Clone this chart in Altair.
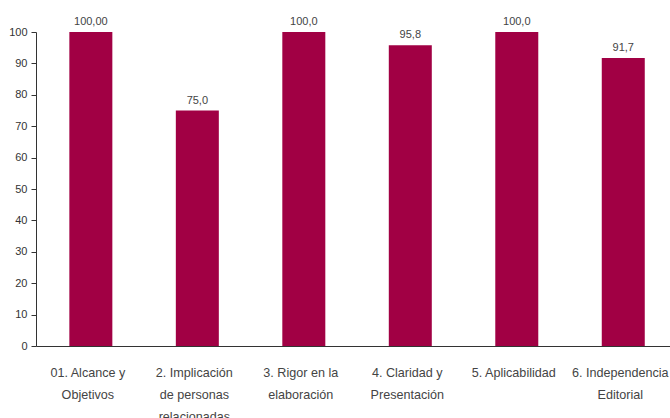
import altair as alt
import pandas as pd

categories = [
    "01. Alcance y|Objetivos",
    "2. Implicación|de personas|relacionadas",
    "3. Rigor en la|elaboración",
    "4. Claridad y|Presentación",
    "5. Aplicabilidad",
    "6. Independencia|Editorial",
]
values = [100.0, 75.0, 100.0, 95.8, 100.0, 91.7]
value_labels = ["100,00", "75,0", "100,0", "95,8", "100,0", "91,7"]

df = pd.DataFrame({"cat": categories, "val": values, "lab": value_labels})

FONT = "Liberation Sans"
BAR = "#A10044"

x = alt.X(
    "cat:N",
    sort=categories,
    title=None,
    scale=alt.Scale(paddingInner=0.59, paddingOuter=0.272, align=0.57, round=False),
    axis=alt.Axis(
        labelAngle=0,
        labelExpr="split(datum.label, '|')",
        labelFont=FONT,
        labelFontSize=12.6,
        labelColor="#444444",
        labelLineHeight=22,
        labelPadding=20,
        labelOffset=-3,
        ticks=False,
        domainColor="#333333",
        domainWidth=1,
        labelLimit=200,
        labelOverlap=False,
    ),
)
y = alt.Y(
    "val:Q",
    title=None,
    scale=alt.Scale(domain=[0, 100], nice=False),
    axis=alt.Axis(
        values=list(range(0, 101, 10)),
        grid=False,
        labelFont=FONT,
        labelFontSize=11,
        labelColor="#333333",
        tickColor="#333333",
        tickSize=5,
        labelPadding=4,
        domainColor="#333333",
        labelOverlap=False,
    ),
)

bars = alt.Chart(df).mark_bar(color=BAR, size=43).encode(x=x, y=y)
text = alt.Chart(df).mark_text(
    font=FONT, fontSize=11, color="#444444", baseline="bottom", dy=-5
).encode(x=x, y=y, text="lab:N")

chart = (
    (bars + text)
    .properties(
        width=634,
        height=314,
        background="white",
        autosize=alt.AutoSizeParams(type="none"),
        padding={"left": 36, "top": 32, "right": 0, "bottom": 72},
    )
    .configure_view(stroke="transparent", strokeWidth=0)
    .configure_axis(grid=False)
)

chart.save("out.html", embed_options={"renderer": "svg", "actions": False})
